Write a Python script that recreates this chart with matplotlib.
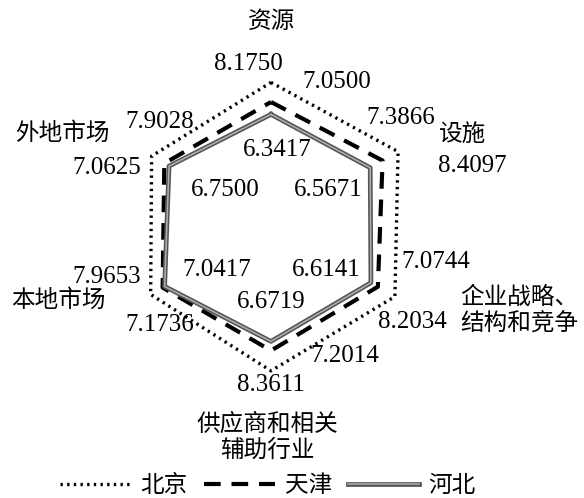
import numpy as np
import matplotlib.pyplot as plt
from matplotlib.lines import Line2D
import matplotlib.patheffects as pe

plt.rcParams['font.family'] = ['Liberation Serif', 'Noto Sans CJK SC']

# Data
categories = ['资源', '设施', '企业战略、\n结构和竞争', '供应商和相关\n辅助行业', '本地市场', '外地市场']
beijing = [8.1750, 8.4097, 8.2034, 8.3611, 7.9653, 7.9028]
tianjin = [7.0500, 7.3866, 7.0744, 7.2014, 7.1736, 7.0625]
hebei = [6.3417, 6.5671, 6.6141, 6.6719, 7.0417, 6.7500]

W, H = 584, 498
fig = plt.figure(figsize=(W / 100, H / 100), dpi=100)

# polar axes, centre at pixel (271, 225), 9 units -> 157 px
cx, cy, R = 271, 225, 157
ax = fig.add_axes([(cx - R) / W, (H - cy - R) / H, 2 * R / W, 2 * R / H], projection='polar')
ax.set_theta_offset(np.pi / 2)
ax.set_theta_direction(-1)
ax.set_ylim(0, 9)
ax.grid(False)
ax.set_xticks([])
ax.set_yticks([])
ax.spines['polar'].set_visible(False)
ax.patch.set_alpha(0)

theta = np.linspace(0, 2 * np.pi, len(categories), endpoint=False)
th = np.append(theta, theta[0])


def closed(v):
    return np.append(v, v[0])


dot_style = dict(color='black', lw=2.4, linestyle=(0, (0.7, 1.3)))
dash_style = dict(color='black', lw=3, linestyle=(0, (4, 2.6)))
solid_style = dict(color='#b0b0b0', lw=1.1,
                   path_effects=[pe.Stroke(linewidth=3.4, foreground='#555555'), pe.Normal()])

ax.plot(th, closed(beijing), **dot_style)
ax.plot(th, closed(tianjin), **dash_style)
ax.plot(th, closed(hebei), **solid_style)


def px(x, y):
    return x / W, 1 - y / H


fs_num = 18
fs_cat = 17

# value labels (pixel positions)
pos_bj = [(248, 64), (472, 166), (412, 322), (271, 385), (107, 277), (160, 122)]
pos_tj = [(337, 82), (401, 118), (436, 262), (345, 356), (160, 325), (107, 168)]
pos_hb = [(277, 150), (328, 190), (326, 270), (271, 302), (217, 270), (225, 190)]
for vals, pos in [(beijing, pos_bj), (tianjin, pos_tj), (hebei, pos_hb)]:
    for v, (x, y) in zip(vals, pos):
        fig.text(*px(x, y), f'{v:.4f}', ha='center', va='center', fontsize=fs_num)

# category labels
cat_pos = [((272, 22), 'center'), ((463, 135), 'center'), ((460, 311), 'left'),
           ((267, 438), 'center'), ((58, 301), 'center'), ((62, 134), 'center')]
for name, ((x, y), ha) in zip(categories, cat_pos):
    fig.text(*px(x, y), name, ha=ha, va='center', fontsize=fs_cat, linespacing=1.2,
             multialignment='center' if ha == 'center' else 'left')

# legend
handles = [Line2D([], [], **dot_style), Line2D([], [], **dash_style), Line2D([], [], **solid_style)]
fig.legend(handles, ['北京', '天津', '河北'], loc='center', bbox_to_anchor=px(268, 486),
           ncol=3, frameon=False, fontsize=fs_cat, handlelength=3.0, handletextpad=0.4,
           columnspacing=0.7)

fig.savefig('out.png', dpi=100, facecolor='white')
